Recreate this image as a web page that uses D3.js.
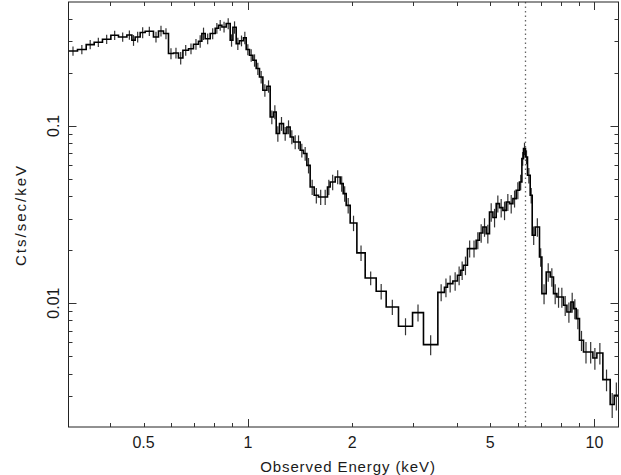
<!DOCTYPE html>
<html>
<head>
<meta charset="utf-8">
<script src="https://cdn.jsdelivr.net/npm/d3@7/dist/d3.min.js"></script>
<style>
  html, body { margin: 0; padding: 0; background: #fff; }
  svg { display: block; }
  text { font-family: "Liberation Sans", Arial, Helvetica, sans-serif; fill: #1a1a1a; }
</style>
</head>
<body>
<div id="chart"></div>
<script>
// Spectrum: bin edges (keV), count rate per bin (cts/s/keV), fractional 1-sigma errors
const binEdges = [
  0.3037, 0.3224, 0.3416, 0.3602, 0.3806, 0.4024, 0.4233, 0.4476, 0.4627, 0.4729,
  0.4889, 0.5054, 0.5341, 0.5522, 0.5708, 0.5901, 0.6100, 0.6306, 0.6494, 0.6741,
  0.6966, 0.7202, 0.7366, 0.7530, 0.7784, 0.8048, 0.8227, 0.8414, 0.8659, 0.8891,
  0.9053, 0.9252, 0.9458, 0.9712, 0.9888, 1.0107, 1.0338, 1.0567, 1.0801, 1.1046,
  1.1345, 1.1596, 1.1855, 1.2070, 1.2337, 1.2668, 1.2957, 1.3243, 1.3539, 1.3848,
  1.4154, 1.4467, 1.4797, 1.5125, 1.5534, 1.5985, 1.6459, 1.6970, 1.7274, 1.7860,
  1.8463, 1.8836, 1.9213, 1.9731, 2.0628, 2.1798, 2.3452, 2.5061, 2.7196, 2.9858,
  3.2109, 3.5326, 3.6908, 3.7654, 3.9029, 4.0233, 4.1152, 4.1879, 4.3004, 4.4280,
  4.5565, 4.6573, 4.7643, 4.8697, 4.9784, 5.0924, 5.2050, 5.3201, 5.4415, 5.5619,
  5.6863, 5.8161, 5.9447, 6.0762, 6.1736, 6.2408, 6.3233, 6.4083, 6.5244, 6.6121,
  6.7444, 6.9396, 7.0509, 7.2566, 7.4515, 7.6163, 7.7902, 7.9621, 8.1399, 8.3258,
  8.5493, 8.6983, 8.8560, 9.0520, 9.2966, 9.6092, 9.8946, 10.160, 10.573, 11.100,
  11.399, 11.730
];

const rates = [
  0.2647, 0.2696, 0.2875, 0.2963, 0.3081, 0.3245, 0.3175, 0.3258, 0.3041, 0.3175,
  0.3361, 0.3419, 0.3175, 0.3432, 0.3318, 0.2559, 0.2579, 0.2416, 0.2671, 0.2724,
  0.2887, 0.3002, 0.3318, 0.3101, 0.3318, 0.3554, 0.3695, 0.3614, 0.3778, 0.3041,
  0.3600, 0.2913, 0.3022, 0.3142, 0.2696, 0.2503, 0.2345, 0.2106, 0.1888, 0.1588,
  0.1673, 0.1122, 0.1198, 0.0905, 0.1030, 0.0905, 0.0986, 0.0866, 0.0811, 0.0811,
  0.0728, 0.0698, 0.0599, 0.0452, 0.0406, 0.0397, 0.0397, 0.0452, 0.0482, 0.0515,
  0.0472, 0.0415, 0.0356, 0.0283, 0.0192, 0.01385, 0.01166, 0.00951, 0.00740, 0.00884,
  0.00583, 0.01150, 0.01228, 0.01288, 0.01333, 0.01435, 0.01532, 0.01634, 0.02031, 0.02031,
  0.02262, 0.02487, 0.02689, 0.02468, 0.03267, 0.03039, 0.03642, 0.03457, 0.03338, 0.03719,
  0.03642, 0.03889, 0.04330, 0.04820, 0.06538, 0.07444, 0.06675, 0.05263, 0.0406, 0.02414,
  0.02689, 0.01820, 0.01131, 0.01498, 0.01404, 0.01131, 0.01082, 0.01082, 0.00972, 0.00891,
  0.01014, 0.00931, 0.00818, 0.00617, 0.00530, 0.00530, 0.00490, 0.00523, 0.00370, 0.00268,
  0.00302
];

const errFrac = [
  0.06, 0.06, 0.06, 0.06, 0.06, 0.06, 0.06, 0.06, 0.07, 0.07,
  0.07, 0.06, 0.07, 0.07, 0.07, 0.07, 0.07, 0.08, 0.07, 0.07,
  0.07, 0.08, 0.08, 0.07, 0.07, 0.07, 0.07, 0.07, 0.07, 0.08,
  0.08, 0.08, 0.07, 0.08, 0.07, 0.08, 0.08, 0.08, 0.08, 0.08,
  0.08, 0.09, 0.09, 0.10, 0.09, 0.09, 0.09, 0.09, 0.09, 0.09,
  0.09, 0.09, 0.10, 0.10, 0.10, 0.10, 0.10, 0.10, 0.10, 0.09,
  0.10, 0.10, 0.10, 0.10, 0.10, 0.09, 0.10, 0.10, 0.11, 0.11,
  0.13, 0.11, 0.12, 0.11, 0.12, 0.12, 0.12, 0.12, 0.11, 0.11,
  0.11, 0.12, 0.12, 0.12, 0.12, 0.12, 0.11, 0.12, 0.12, 0.11,
  0.12, 0.11, 0.11, 0.10, 0.09, 0.08, 0.09, 0.10, 0.10, 0.12,
  0.12, 0.12, 0.13, 0.12, 0.12, 0.13, 0.13, 0.13, 0.13, 0.13,
  0.13, 0.13, 0.13, 0.13, 0.14, 0.14, 0.14, 0.14, 0.14, 0.16,
  0.18
];

// Axis ticks
const xMajorTicks = [1, 10];
const xMinorTicks = [0.4, 0.5, 0.6, 0.7, 0.8, 0.9, 2, 3, 4, 5, 6, 7, 8, 9];
const xLabelTicks = [0.5, 1, 2, 5, 10];
const yMajorTicks = [0.01, 0.1];
const yMinorTicks = [0.003, 0.004, 0.005, 0.006, 0.007, 0.008, 0.009,
  0.02, 0.03, 0.04, 0.05, 0.06, 0.07, 0.08, 0.09, 0.2, 0.3, 0.4];
const yLabelTicks = [0.01, 0.1];

const lineEnergy = 6.32;   // dotted marker (Fe K line)

const width = 621, height = 475;
const plotLeft = 68.5, plotRight = 618.5, plotTop = 2, plotBottom = 427;

const svg = d3.select("#chart").append("svg")
  .attr("width", width)
  .attr("height", height);

const x = d3.scaleLog().domain([binEdges[0], binEdges[binEdges.length - 1]]).range([plotLeft, plotRight]);
const y = d3.scaleLog().domain([0.002, 0.5]).range([plotBottom, plotTop]);

const bins = rates.map((v, i) => ({
  lo: binEdges[i],
  hi: binEdges[i + 1],
  v: v,
  err: v * errFrac[i]
}));

// dotted vertical marker
svg.append("line")
  .attr("x1", Math.round(x(lineEnergy)) + 0.5).attr("x2", Math.round(x(lineEnergy)) + 0.5)
  .attr("y1", plotTop).attr("y2", plotBottom)
  .attr("stroke", "#666")
  .attr("stroke-width", 1.3)
  .attr("stroke-dasharray", "1.5,3");

// error bars
svg.append("g").selectAll("line")
  .data(bins)
  .join("line")
  .attr("x1", d => x(Math.sqrt(d.lo * d.hi)))
  .attr("x2", d => x(Math.sqrt(d.lo * d.hi)))
  .attr("y1", d => y(d.v + d.err))
  .attr("y2", d => y(Math.max(d.v - d.err, 0.0021)))
  .attr("stroke", "#333")
  .attr("stroke-width", 1.2);

// step histogram
const stepPts = [];
bins.forEach(d => {
  stepPts.push([d.lo, d.v]);
  stepPts.push([d.hi, d.v]);
});

svg.append("path")
  .datum(stepPts)
  .attr("fill", "none")
  .attr("stroke", "#000")
  .attr("stroke-width", 1.6)
  .attr("stroke-linejoin", "miter")
  .attr("d", d3.line().x(d => x(d[0])).y(d => y(d[1])));

// frame
svg.append("rect")
  .attr("x", plotLeft).attr("y", plotTop)
  .attr("width", plotRight - plotLeft).attr("height", plotBottom - plotTop)
  .attr("fill", "none")
  .attr("stroke", "#222")
  .attr("stroke-width", 1);

const ticks = svg.append("g").attr("stroke", "#333").attr("stroke-width", 1);

function xTicks(values, len) {
  values.forEach(v => {
    const px = Math.round(x(v)) + 0.5;
    ticks.append("line").attr("x1", px).attr("x2", px).attr("y1", plotBottom).attr("y2", plotBottom - len);
    ticks.append("line").attr("x1", px).attr("x2", px).attr("y1", plotTop).attr("y2", plotTop + len);
  });
}
function yTicks(values, len) {
  values.forEach(v => {
    const py = Math.round(y(v)) + 0.5;
    ticks.append("line").attr("x1", plotLeft).attr("x2", plotLeft + len).attr("y1", py).attr("y2", py);
    ticks.append("line").attr("x1", plotRight).attr("x2", plotRight - len).attr("y1", py).attr("y2", py);
  });
}
xTicks(xMinorTicks, 4);
xTicks(xMajorTicks, 8);
yTicks(yMinorTicks, 4);
yTicks(yMajorTicks, 8);

// tick labels
svg.append("g").selectAll("text")
  .data(xLabelTicks)
  .join("text")
  .attr("x", d => x(d))
  .attr("y", 448)
  .attr("text-anchor", "middle")
  .style("font-size", "16px")
  .text(d => String(d));

svg.append("g").selectAll("text")
  .data(yLabelTicks)
  .join("text")
  .attr("transform", d => `translate(58.5,${y(d)}) rotate(-90)`)
  .attr("text-anchor", "middle")
  .style("font-size", "16px")
  .text(d => String(d));

// axis titles
svg.append("text")
  .attr("x", 348)
  .attr("y", 472)
  .attr("text-anchor", "middle")
  .style("font-size", "15px")
  .style("letter-spacing", "0.9px")
  .text("Observed Energy (keV)");

svg.append("text")
  .attr("transform", `translate(26,215) rotate(-90)`)
  .attr("text-anchor", "middle")
  .style("font-size", "15px")
  .style("letter-spacing", "2px")
  .text("Cts/sec/keV");
</script>
</body>
</html>
